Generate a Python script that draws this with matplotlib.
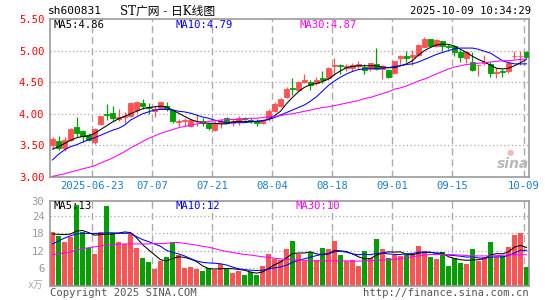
import matplotlib
matplotlib.use('Agg')
import matplotlib.pyplot as plt
import numpy as np
import pandas as pd

# ---------------- data ----------------
trade_dates = [d.strftime('%Y-%m-%d') for d in pd.bdate_range('2025-06-12', '2025-10-09')
               if not ('2025-10-01' <= d.strftime('%Y-%m-%d') <= '2025-10-08')]

open_ = [3.50,3.57,3.46,3.59,3.79,3.72,3.66,3.56,3.84,3.99,
         4.01,3.92,3.95,3.97,4.06,4.17,4.10,4.05,4.09,4.12,
         4.06,3.87,3.89,3.81,3.88,3.89,3.84,3.74,3.85,3.93,
         3.86,3.88,3.93,3.90,3.89,3.86,3.93,4.04,4.12,4.27,
         4.41,4.37,4.50,4.51,4.49,4.56,4.56,4.75,4.77,4.72,
         4.73,4.75,4.74,4.71,4.79,4.71,4.70,4.65,4.88,4.92,
         4.90,4.93,5.06,5.18,5.08,5.15,5.07,5.07,4.97,4.89,
         4.82,4.77,4.81,4.79,4.65,4.67,4.68,4.91,4.91,4.98]
close = [3.60,3.46,3.59,3.76,3.69,3.65,3.59,3.76,3.96,3.98,
         3.93,3.95,3.96,4.17,4.18,4.12,4.09,4.08,4.19,4.08,
         3.88,3.88,3.90,3.90,3.89,3.86,3.77,3.86,3.89,3.86,
         3.89,3.93,3.92,3.88,3.85,3.89,4.04,4.16,4.24,4.40,
         4.40,4.51,4.53,4.45,4.53,4.53,4.73,4.77,4.76,4.76,
         4.78,4.79,4.70,4.81,4.71,4.76,4.59,4.83,4.91,4.88,
         4.93,5.09,5.18,5.08,5.17,5.07,5.06,4.97,4.90,4.97,
         4.70,4.78,4.82,4.65,4.66,4.66,4.80,4.92,4.92,4.90]
high = [3.64,3.65,3.63,3.77,3.95,3.75,3.69,3.77,3.97,4.16,
        4.12,4.07,4.03,4.18,4.20,4.23,4.17,4.12,4.20,4.19,
        4.08,3.91,3.94,3.91,3.98,3.93,3.86,3.89,3.91,3.95,
        3.91,3.97,3.95,3.93,3.91,3.92,4.07,4.19,4.25,4.42,
        4.57,4.52,4.63,4.54,4.59,4.68,4.74,4.88,4.79,4.79,
        4.81,4.84,4.79,4.81,5.04,4.78,4.71,4.84,4.93,5.00,
        5.01,5.10,5.21,5.19,5.18,5.15,5.11,5.09,5.01,5.00,
        4.98,4.78,4.93,4.82,4.72,4.71,4.84,4.99,5.00,5.00]
low = [3.44,3.43,3.41,3.57,3.63,3.55,3.57,3.52,3.82,3.90,
       3.88,3.89,3.86,3.95,4.02,4.07,4.00,3.95,4.07,4.04,
       3.86,3.80,3.81,3.79,3.81,3.81,3.75,3.73,3.78,3.85,
       3.81,3.83,3.90,3.86,3.81,3.84,3.89,4.03,4.11,4.25,
       4.30,4.36,4.49,4.38,4.46,4.49,4.53,4.62,4.63,4.68,
       4.68,4.71,4.63,4.68,4.70,4.55,4.56,4.63,4.78,4.82,
       4.78,4.92,5.05,5.05,5.06,5.00,5.03,4.91,4.82,4.80,
       4.68,4.60,4.77,4.59,4.56,4.59,4.64,4.87,4.78,4.88]

ma5 = [3.44,3.48,3.53,3.58,3.62,3.64,3.65,3.69,3.75,3.81,
       3.87,3.92,3.96,4.00,4.04,4.08,4.10,4.11,4.12,4.11,
       4.06,4.01,3.96,3.91,3.88,3.86,3.85,3.85,3.84,3.84,
       3.87,3.88,3.88,3.88,3.88,3.89,3.91,3.97,4.04,4.16,
       4.26,4.35,4.42,4.46,4.48,4.51,4.55,4.62,4.68,4.73,
       4.75,4.76,4.76,4.76,4.76,4.74,4.73,4.73,4.76,4.79,
       4.84,4.93,5.00,5.05,5.09,5.10,5.10,5.07,5.02,4.97,
       4.91,4.86,4.82,4.77,4.72,4.71,4.72,4.76,4.81,4.86]
ma10 = [3.27,3.36,3.43,3.48,3.51,3.55,3.59,3.62,3.66,3.70,
        3.74,3.77,3.82,3.90,3.95,4.00,4.03,4.06,4.07,4.07,
        4.06,4.04,4.03,4.01,3.98,3.95,3.93,3.90,3.88,3.86,
        3.86,3.86,3.86,3.87,3.88,3.89,3.91,3.94,3.98,4.02,
        4.06,4.10,4.14,4.20,4.27,4.36,4.45,4.52,4.58,4.63,
        4.67,4.70,4.71,4.72,4.72,4.72,4.73,4.75,4.76,4.78,
        4.79,4.82,4.86,4.90,4.94,4.97,5.00,5.03,5.04,5.04,
        5.04,5.02,4.99,4.96,4.90,4.84,4.81,4.79,4.79,4.79]
ma30 = [3.01,3.03,3.05,3.08,3.10,3.13,3.15,3.18,3.22,3.26,
        3.30,3.35,3.40,3.46,3.51,3.56,3.61,3.65,3.69,3.72,
        3.75,3.78,3.80,3.82,3.84,3.86,3.88,3.89,3.90,3.91,
        3.91,3.91,3.92,3.93,3.93,3.94,3.95,3.96,3.97,3.99,
        4.00,4.02,4.04,4.06,4.08,4.10,4.11,4.13,4.15,4.17,
        4.19,4.21,4.24,4.26,4.29,4.32,4.35,4.39,4.41,4.44,
        4.48,4.52,4.55,4.59,4.63,4.67,4.71,4.74,4.76,4.78,
        4.79,4.80,4.81,4.82,4.83,4.84,4.84,4.85,4.86,4.87]

volume = [18.5,17.1,15.1,16.8,27.8,18.6,12.9,10.9,18.5,27.5,
          18.0,15.1,14.3,17.8,13.1,9.5,8.3,5.9,8.6,9.9,
          14.9,10.6,6.1,6.4,5.9,5.1,6.0,5.6,7.5,6.1,
          4.4,5.1,3.7,4.9,3.7,6.8,10.8,9.1,8.9,12.6,
          15.4,10.9,8.5,11.7,8.9,13.0,12.6,15.4,10.5,8.6,
          8.9,6.8,12.0,9.5,16.1,12.6,9.5,10.6,10.3,10.6,
          11.1,13.7,12.0,9.9,9.2,11.7,6.8,9.7,7.8,7.5,
          12.6,8.5,9.8,15.1,10.0,10.3,13.3,17.6,18.2,6.4]
vma5 = [17.8,17.7,17.6,17.8,18.8,19.0,18.3,17.4,17.6,17.7,
        17.8,18.1,18.5,18.3,16.5,14.2,12.4,10.7,9.0,8.6,
        9.4,10.0,9.8,9.2,8.4,6.9,6.0,5.8,5.9,6.0,
        5.9,5.7,5.4,4.8,4.4,4.8,6.0,7.3,8.2,9.6,
        11.1,11.3,11.3,11.7,11.0,10.7,11.0,12.2,12.0,11.8,
        11.0,10.0,9.3,9.4,10.6,11.3,11.7,11.6,11.7,10.8,
        10.7,11.2,11.5,11.5,11.3,11.3,10.0,9.4,9.0,8.8,
        8.9,9.0,9.4,10.6,11.1,11.0,11.7,13.3,13.9,13.2]
vma10 = [14.4,15.4,16.4,17.2,17.8,18.0,18.0,18.0,18.0,18.2,
         18.2,18.1,18.0,18.1,16.9,15.9,15.2,14.4,13.6,12.2,
         11.5,11.0,10.3,9.4,8.6,8.1,7.9,7.8,7.6,7.2,
         6.5,5.9,5.6,5.4,5.3,5.4,5.8,6.2,6.5,7.1,
         8.1,8.8,9.3,9.9,10.4,10.9,11.1,11.7,11.9,11.6,
         11.0,10.7,10.9,10.7,11.2,11.2,11.0,10.8,10.8,11.0,
         11.1,11.6,11.6,11.6,11.1,10.9,10.6,10.4,10.2,9.9,
         10.0,9.6,9.5,9.9,10.0,9.9,10.5,11.3,12.2,12.2]
vma30 = [10.8,11.0,11.3,11.7,12.3,12.8,13.1,13.4,13.7,13.9,
         14.1,14.3,14.4,14.4,14.4,14.4,14.4,14.5,14.5,14.6,
         14.8,14.9,14.6,14.3,14.0,13.6,13.3,12.8,12.3,11.8,
         11.5,11.1,10.8,10.6,10.3,10.0,9.8,9.5,9.3,9.1,
         9.0,8.9,8.8,8.7,8.6,8.6,8.6,8.6,8.6,8.6,
         8.5,8.5,8.6,8.7,8.8,8.9,9.0,9.1,9.4,9.7,
         10.0,10.3,10.6,10.8,10.8,10.8,10.8,10.7,10.6,10.4,
         10.3,10.3,10.3,10.3,10.4,10.5,10.6,10.7,10.7,10.7]

x_tick_dates = ['2025-06-23','2025-07-07','2025-07-21','2025-08-04',
                '2025-08-18','2025-09-01','2025-09-15','2025-10-09']
x_tick_labels = ['2025-06-23','07-07','07-21','08-04','08-18','09-01','09-15','10-09']
price_ticks = [3.00, 3.50, 4.00, 4.50, 5.00, 5.50]
price_tick_labels = ['3.00','3.50','4.00','4.50','5.00','5.50']
vol_ticks = [6, 12, 18, 24]
vol_tick_labels = ['6','12','18','24']

# ---------------- style ----------------
RED = '#ff5252'
GREEN = '#00a000'
GRID = '#aaaaaa'
SPINE = '#999999'
DATECOL = '#1a7fcc'
MONO = 'DejaVu Sans Mono'
plt.rcParams['font.family'] = ['DejaVu Sans Mono', 'Noto Sans CJK SC']

W, H = 545, 300
fig = plt.figure(figsize=(W/100, H/100), dpi=100)
fig.patch.set_facecolor('white')

def fx(px):
    return px / W
def fy(py):
    return 1 - py / H

L, R = 50, 529
ax = fig.add_axes([fx(L), fy(177), (R-L)/W, (177-19)/H])
axv = fig.add_axes([fx(L), fy(286), (R-L)/W, (286-201)/H])

n = len(close)
x = np.arange(n)
o = np.array(open_); c = np.array(close); hi = np.array(high); lo = np.array(low)
up = c >= o
cols = np.where(up, RED, GREEN)
xlim = (-0.42, n - 1 + 0.42)

tick_idx = np.array([trade_dates.index(d) for d in x_tick_dates])
grid_x = tick_idx - 0.42

for a in (ax, axv):
    a.set_xlim(*xlim)
    for gx in grid_x:
        a.axvline(gx, color=GRID, lw=1.0, ls=(0, (5, 3)), zorder=0)
    for s in a.spines.values():
        s.set_color(SPINE)
        s.set_linewidth(1.2)
    a.tick_params(length=0)

# price panel
ax.set_ylim(3.0, 5.5)
for yv in [3.5, 4.0, 4.5, 5.0]:
    ax.axhline(yv, color=GRID, lw=0.9, ls=(0, (1, 2)), zorder=0)
ax.vlines(x, lo, hi, colors=cols, lw=0.9, zorder=2)
ax.bar(x, np.abs(c - o), bottom=np.minimum(o, c), width=0.8, color=cols,
       edgecolor=cols, linewidth=0.6, zorder=3)
ax.plot(x, ma5, color='black', lw=0.75, zorder=4)
ax.plot(x, ma10, color='#0000ff', lw=0.75, zorder=4)
ax.plot(x, ma30, color='#ff00ff', lw=0.75, zorder=4)
ax.set_yticks(price_ticks)
ax.set_yticklabels(price_tick_labels, color='#ff0000', fontsize=7.6, family=MONO)
ax.tick_params(axis='y', pad=4)
ax.set_xticks(grid_x)
ax.set_xticklabels(x_tick_labels, color=DATECOL, fontsize=7.6, family=MONO)
ax.tick_params(axis='x', pad=3)

# volume panel
vmax = 29.1
axv.set_ylim(0, vmax)
for yv in vol_ticks:
    axv.axhline(yv, color=GRID, lw=0.9, ls=(0, (1, 2)), zorder=0)
axv.bar(x, volume, width=0.8, color=cols, linewidth=0, zorder=2)
axv.plot(x, vma5, color='black', lw=0.75, zorder=4)
axv.plot(x, vma10, color='#0000ff', lw=0.75, zorder=4)
axv.plot(x, vma30, color='#ff00ff', lw=0.75, zorder=4)
axv.set_yticks(vol_ticks + [vmax])
axv.set_yticklabels(vol_tick_labels + ['30'], color='#999999', fontsize=7.6, family=MONO)
axv.tick_params(axis='y', pad=4)
axv.set_xticks([])

# header texts
fig.text(fx(48), fy(11), 'sh600831', fontsize=8, color='black', va='center', ha='left')
fig.text(fx(120), fy(11), 'ST广网 - 日K线图', fontsize=8.5, color='black', va='center', ha='left',
         family=['DejaVu Serif', 'Noto Sans CJK SC'])
fig.text(fx(531), fy(11), '2025-10-09 10:34:29', fontsize=7.6, color='black', va='center', ha='right')

# MA legends
fig.text(fx(53), fy(25), 'MA5:4.86', fontsize=7.6, color='black', va='center')
fig.text(fx(176), fy(25), 'MA10:4.79', fontsize=7.6, color='#0000ff', va='center')
fig.text(fx(299), fy(25), 'MA30:4.87', fontsize=7.6, color='#ff00ff', va='center')
fig.text(fx(54), fy(206), 'MA5:13', fontsize=7.6, color='black', va='center')
fig.text(fx(175), fy(206), 'MA10:12', fontsize=7.6, color='#0000ff', va='center')
fig.text(fx(295), fy(206), 'MA30:10', fontsize=7.6, color='#ff00ff', va='center')

# footer
fig.text(fx(28), fy(285), 'x万', fontsize=7, color='#aaaaaa', va='center',
         family=['DejaVu Sans Mono', 'Noto Sans CJK SC'])
fig.text(fx(50), fy(293), 'Copyright 2025 SINA.COM', fontsize=7.6, color='#555555', va='center')
fig.text(fx(529), fy(293), 'http://finance.sina.com.cn', fontsize=7.6, color='#555555',
         va='center', ha='right')

# sina watermark
fig.text(fx(513), fy(164), 'sina', fontsize=10, color='#b8b8b8', style='italic',
         weight='bold', va='center', ha='center', family='DejaVu Sans')
fig.text(fx(510), fy(153), '●', fontsize=6, color='#f4b8b8', va='center', ha='center',
         family='DejaVu Sans')

fig.savefig('out.png', dpi=100, facecolor='white')
